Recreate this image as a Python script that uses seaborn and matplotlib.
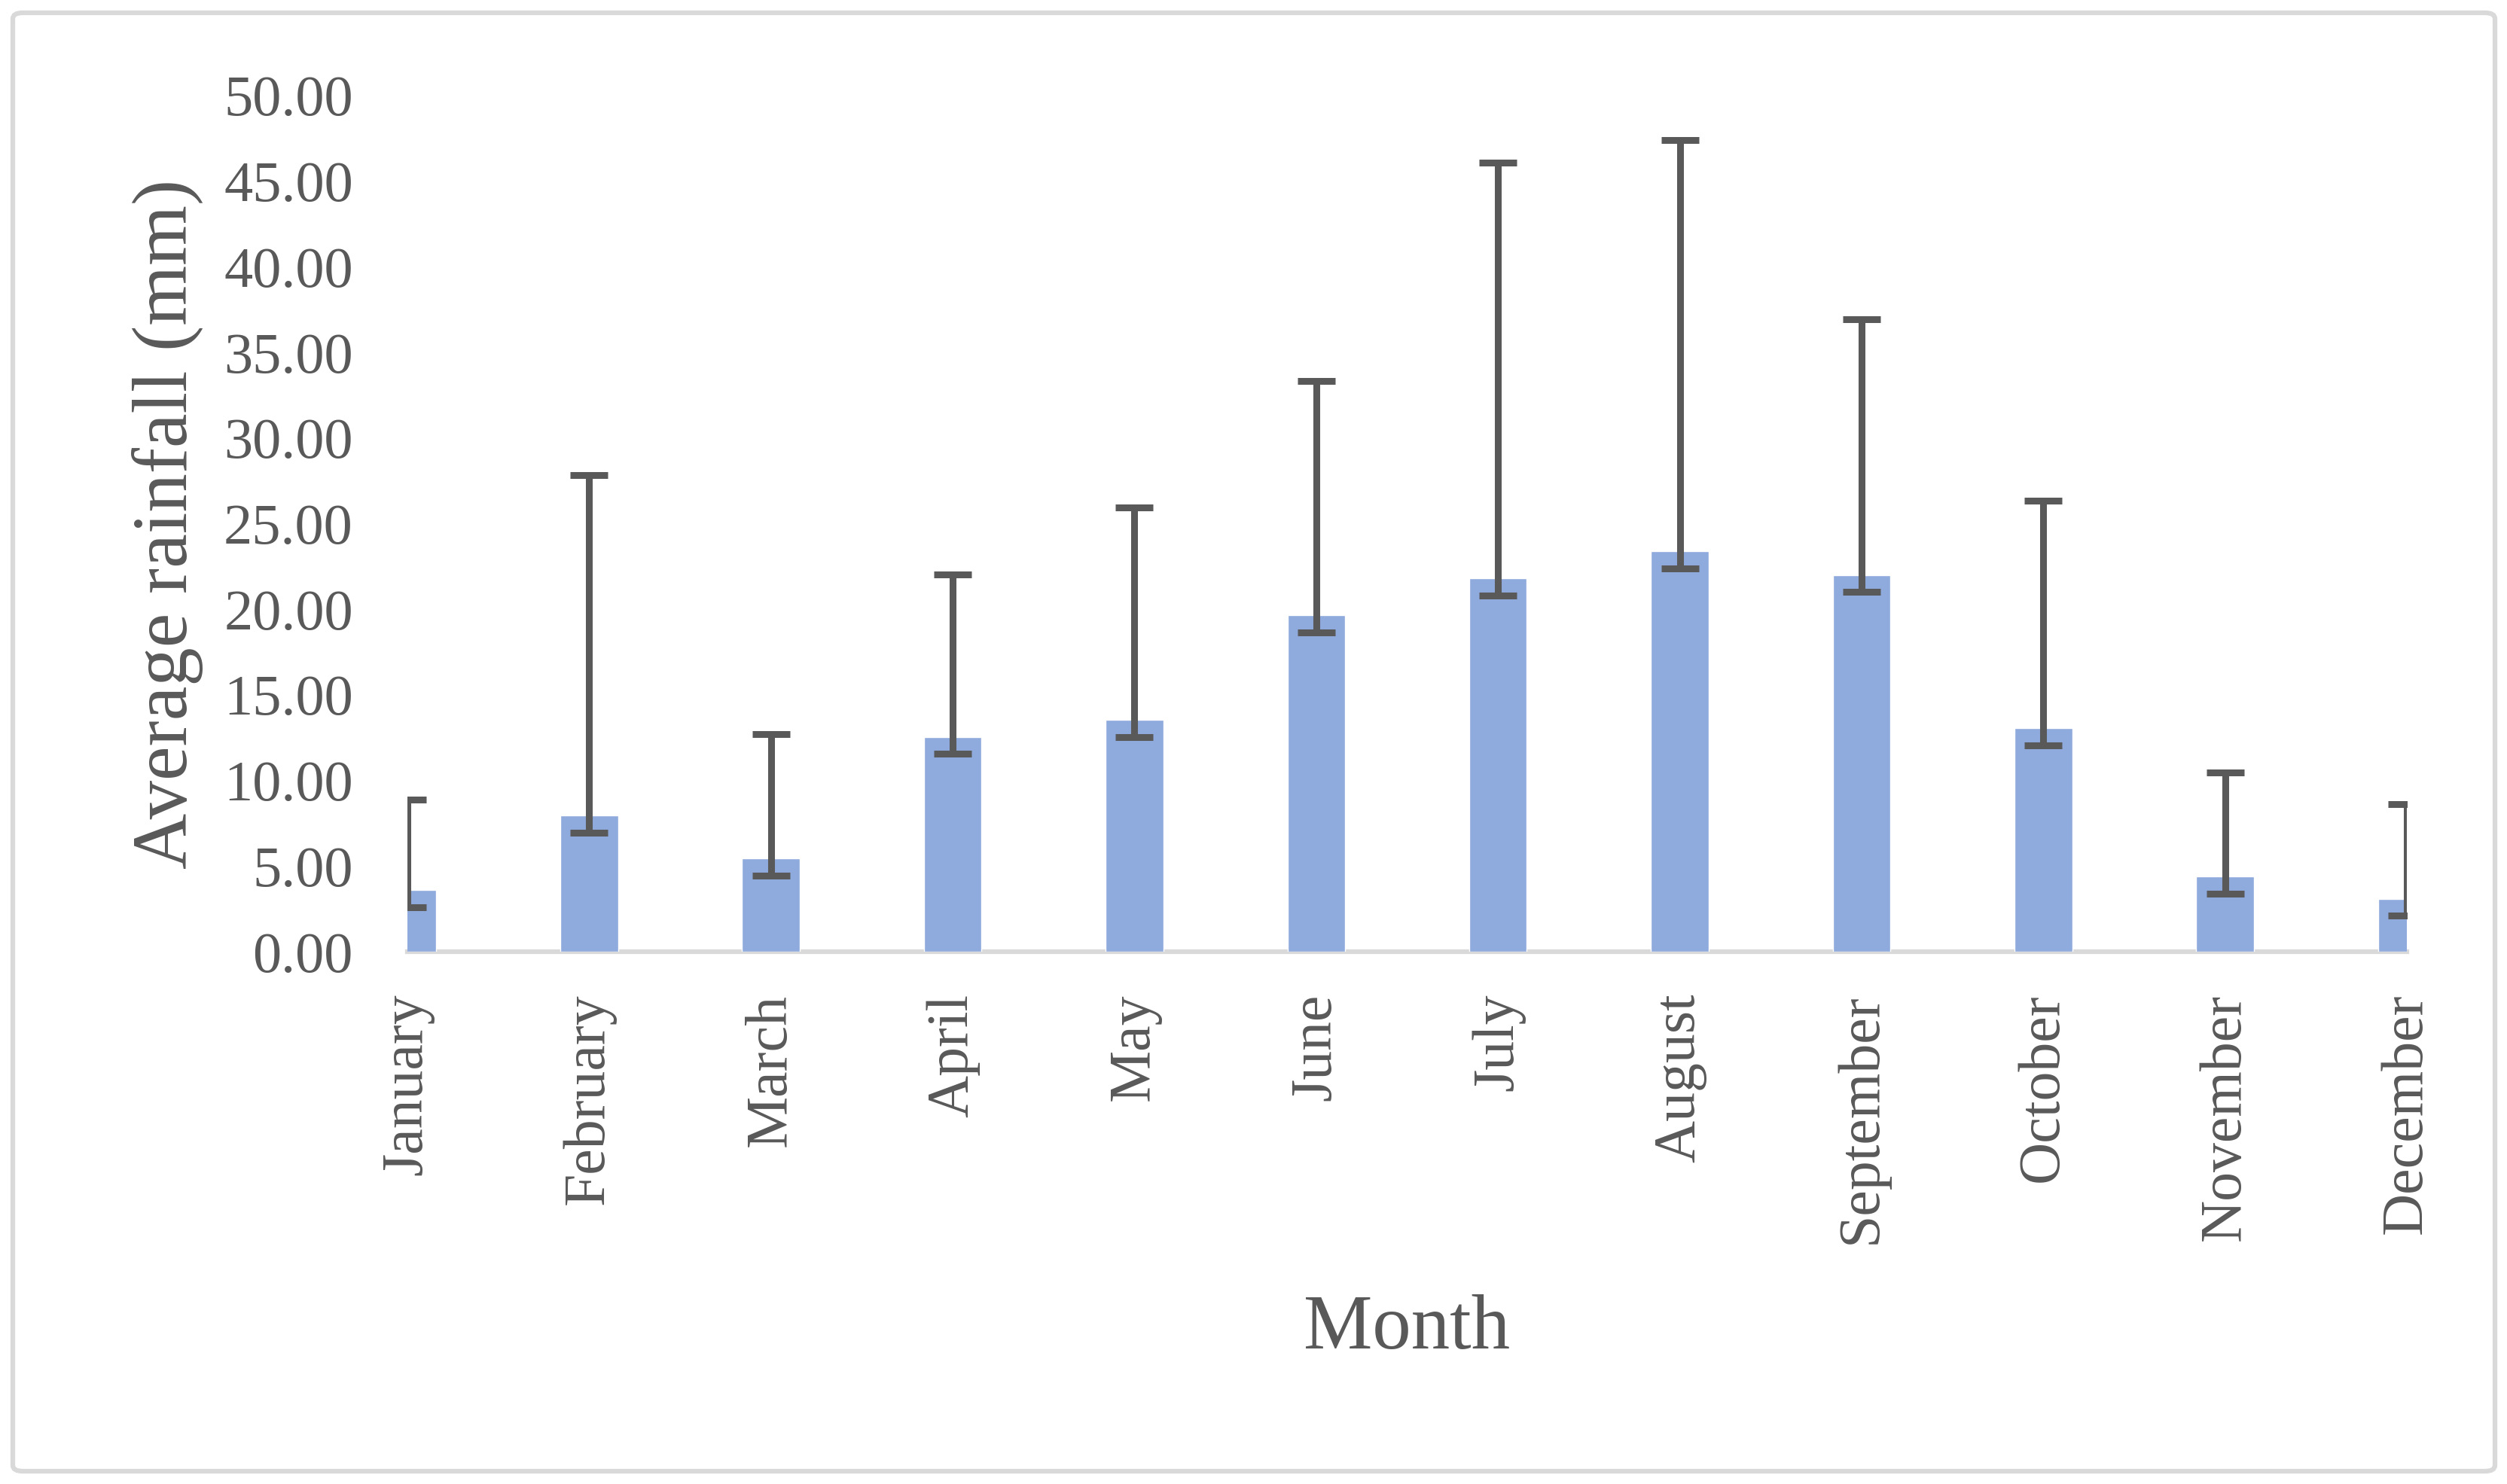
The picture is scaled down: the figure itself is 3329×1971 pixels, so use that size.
import numpy as np
import pandas as pd
import matplotlib
matplotlib.use("Agg")
import matplotlib.pyplot as plt
import seaborn as sns
from matplotlib.patches import FancyBboxPatch

months = ["January", "February", "March", "April", "May", "June", "July",
          "August", "September", "October", "November", "December"]
mean_rain = [3.6, 7.95, 5.45, 12.55, 13.55, 19.65, 21.8, 23.4, 22.0, 13.05, 4.4, 3.1]
err_upper = [5.3, 19.9, 7.25, 9.5, 12.4, 13.7, 24.3, 24.0, 14.95, 13.3, 6.05, 5.5]
err_lower = [1.0, 1.0, 1.0, 1.0, 1.0, 1.0, 1.0, 1.0, 1.0, 1.0, 1.0, 1.0]
y_ticks = [0, 5, 10, 15, 20, 25, 30, 35, 40, 45, 50]

df = pd.DataFrame({"Month": months, "Rain": mean_rain})

sns.set_theme(style="white")
plt.rcParams["font.family"] = ["Liberation Serif", "DejaVu Serif"]

TXT = "#595959"
BAR = "#8FAADC"
GRAY = "#D9D9D9"

W, H = 3330, 1971
fig = plt.figure(figsize=(W / 100, H / 100), dpi=100)
ax = fig.add_axes([541 / W, 1 - 1264 / H, (3196 - 541) / W, (1264 - 127) / H])

sns.barplot(data=df, x="Month", y="Rain", color=BAR, saturation=1,
            width=0.317, errorbar=None, ax=ax, zorder=2)
x = np.arange(len(months))
ax.errorbar(x, mean_rain, yerr=[err_lower, err_upper], fmt="none",
            ecolor="#595959", elinewidth=6.5, capsize=18, capthick=6.5, zorder=3)

ax.set_xlim(0, len(months) - 1)
ax.set_ylim(0, 50)
ax.set_yticks(y_ticks)
ax.set_yticklabels([f"{v:.2f}" for v in y_ticks])

for s in ["top", "right", "left"]:
    ax.spines[s].set_visible(False)
ax.spines["bottom"].set_color(GRAY)
ax.spines["bottom"].set_linewidth(4.5)
ax.spines["bottom"].set_zorder(1)

ax.tick_params(axis="y", length=0, pad=52, labelsize=55, labelcolor=TXT)
ax.tick_params(axis="x", length=0, pad=40, labelsize=56, labelcolor=TXT,
               labelrotation=90)
for lab in ax.get_xticklabels():
    lab.set_va("top")
    lab.set_ha("center")

ax.set_xlabel("Month", fontsize=74, color=TXT)
ax.set_ylabel("Average rainfall (mm)", fontsize=74, color=TXT)
ax.xaxis.set_label_coords(0.5, -0.40)
ax.yaxis.set_label_coords(-0.102, 0.5)

border = FancyBboxPatch((17 / W, 17 / H), (W - 34) / W, (H - 34) / H,
                        boxstyle="round,pad=0,rounding_size=0.004",
                        transform=fig.transFigure, fill=False,
                        edgecolor=GRAY, linewidth=4.5)
fig.patches.append(border)

fig.savefig("out.png", dpi=100, facecolor="white")
